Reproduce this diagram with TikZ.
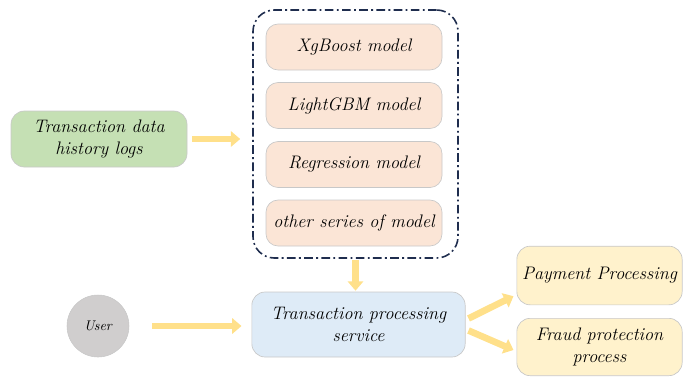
\documentclass[tikz,border=0pt]{standalone}
\usetikzlibrary{arrows.meta}
\definecolor{greenfill}{HTML}{C5E0B4}
\definecolor{peachfill}{HTML}{FBE5D6}
\definecolor{bluefill}{HTML}{DEEBF7}
\definecolor{yellowfill}{HTML}{FFF2CC}
\definecolor{arrowfill}{HTML}{FFE08A}
\definecolor{greyfill}{HTML}{D0CECE}
\definecolor{boxline}{HTML}{C8C8C8}
\definecolor{navy}{HTML}{1F2D4E}
\tikzset{
  box/.style={draw=boxline, line width=0.5pt, rounded corners=10pt, align=center,
    font=\fontsize{13.6}{16}\selectfont\itshape, inner sep=2pt},
  modelbox/.style={box, fill=peachfill, minimum width=132pt, minimum height=34.5pt, rounded corners=9pt},
  blockarrow/.style={draw=arrowfill, line width=5pt,
    -{Triangle[width=11.5pt,length=7pt]}, shorten <=0pt},
}
\begin{document}
\begin{tikzpicture}[x=0.75pt,y=-0.75pt]
\useasboundingbox (0,0) rectangle (698,376);
% green source
\node[box, fill=greenfill, minimum width=132pt, minimum height=42pt] (logs) at (99,139) {Transaction data\\history logs};
% dashed container
\node[draw=navy, line width=1.2pt, rounded corners=16pt,
  dash pattern=on 6.5pt off 2.5pt on 1.4pt off 2.5pt,
  minimum width=153.75pt, minimum height=186pt] (models) at (355.5,134) {};
\node[modelbox] (xg) at (354,47) {XgBoost model};
\node[modelbox] (lgbm) at (354,105.5) {LightGBM model};
\node[modelbox] (reg) at (354,164.5) {Regression model};
\node[modelbox] (other) at (354,223) {other series of model};
% user
\node[circle, draw=boxline, fill=greyfill, minimum size=46.5pt, inner sep=0pt,
  font=\fontsize{10.5}{12}\selectfont\itshape] (user) at (98,326) {User};
% TPS
\node[box, fill=bluefill, minimum width=160pt, minimum height=48.75pt] (tps) at (358.5,324.5) {Transaction processing\\service};
% outputs
\node[box, fill=yellowfill, minimum width=124pt, minimum height=44pt] (pay) at (599.5,275.5) {Payment Processing};
\node[box, fill=yellowfill, minimum width=124pt, minimum height=43pt] (fraud) at (599.5,347) {Fraud protection\\process};
% arrows
\draw[blockarrow, shorten <=3.75pt, shorten >=9pt] (logs.east) -- (models.west |- logs.east);
\draw[blockarrow, shorten <=0.75pt, shorten >=0.75pt] (models.south) -- (models.south |- tps.north);
\draw[blockarrow, shorten <=17pt, shorten >=7.5pt] (user.east) -- (tps.west |- user.east);
\draw[blockarrow] ([shift={(3,-6)}]tps.east) -- ([shift={(-3,-9)}]pay.south west);
\draw[blockarrow] ([shift={(3,6)}]tps.east) -- ([shift={(-3,3)}]fraud.west);
\end{tikzpicture}
\end{document}
